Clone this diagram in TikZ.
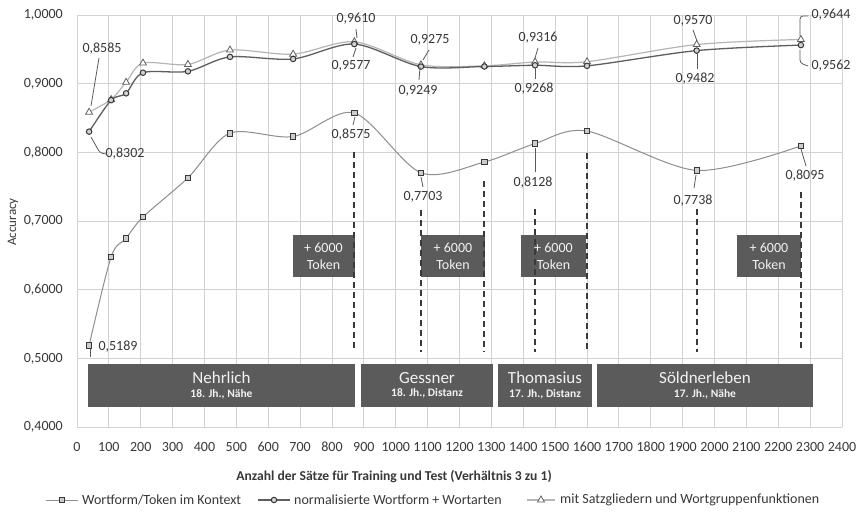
\documentclass[tikz,border=0pt]{standalone}
\usepackage{fontspec}
\setmainfont{Carlito}
\usetikzlibrary{shapes.geometric}

\definecolor{ink}{HTML}{383838}
\definecolor{gridc}{HTML}{D2D2D2}
\definecolor{boxc}{HTML}{5B5B5B}
\definecolor{boxtext}{HTML}{F2F2F2}
\definecolor{serA}{HTML}{8E8E8E}
\definecolor{serB}{HTML}{5E5E5E}
\definecolor{serC}{HTML}{B5B5B5}
\definecolor{leadc}{HTML}{5A5A5A}
\definecolor{cutc}{HTML}{3A3A3A}

\newcommand\fsz[2]{\fontsize{#1bp}{#2bp}\selectfont}

\begin{document}
\begin{tikzpicture}[x=1bp,y=-1bp,
  gridline/.style={draw=gridc, line width=0.9bp},
  ticklab/.style={text=ink, font=\fsz{14}{16}, inner sep=0pt},
  datalab/.style={text=ink, font=\fsz{14}{16}, inner sep=0pt},
  leader/.style={draw=leadc, line width=0.8bp},
  cutline/.style={draw=cutc, line width=2bp, dash pattern=on 6bp off 4bp},
  tokbox/.style={fill=boxc, text=boxtext, font=\fsz{14}{17}, align=center,
    minimum height=42bp, inner sep=0pt},
  authbox/.style={fill=boxc, text=boxtext, align=center,
    minimum height=43bp, inner sep=0pt},
  linA/.style={draw=serA, line width=1bp},
  linB/.style={draw=serB, line width=1.3bp},
  linC/.style={draw=serC, line width=1.2bp},
  mkA/.style={rectangle, draw=ink, fill=gray!40, line width=0.8bp,
    minimum size=5.5bp, inner sep=0pt},
  mkB/.style={circle, draw=ink, fill=gray!35, line width=1bp,
    minimum size=5.5bp, inner sep=0pt},
  mkC/.style={regular polygon, regular polygon sides=3, draw=gray!75!black,
    fill=white, line width=0.8bp, minimum size=8bp, inner sep=0pt},
  legmark/.style={minimum width=32bp, minimum height=1bp, inner sep=0pt},
]
\useasboundingbox (0,0) rectangle (861,514);
\fill[white] (0,0) rectangle (861,514);

% grid of the plot area
\foreach \k in {0,...,24}
  \draw[gridline] ({77+31.875*\k},15) -- ({77+31.875*\k},427.2);
\foreach \k in {0,...,6}
  \draw[gridline] (77,{15+68.7*\k}) -- (842,{15+68.7*\k});

% axis tick labels
\foreach \k in {0,...,24}{
  \pgfmathtruncatemacro\val{100*\k}
  \node[ticklab] (xt\k) at ({77+31.875*\k},447) {\val};
}
\foreach \k in {4,...,9}
  \node[ticklab, anchor=east] (yt\k) at (63,{15+(10-\k)*68.7}) {0,\k000};
\node[ticklab, anchor=east] (yt10) at (63,15) {1,0000};

\node[text=ink, font=\fsz{13}{15}, rotate=90] (ylab) at (13,222) {Accuracy};
\node[text=ink, font=\bfseries\fsz{13.6}{15}] (xlab) at (394,477)
  {Anzahl der Sätze für Training und Test (Verhältnis 3 zu 1)};

% data points (sentences, accuracy) of the three runs
\begin{scope}[shift={(77bp,-702bp)}, x=0.31875bp, y=687bp]
\foreach \i/\v/\pa/\pb/\pc in {
  1/38/0.5189/0.8302/0.8585,
  2/107/0.648/0.876/0.877,
  3/154/0.675/0.886/0.902,
  4/207/0.706/0.916/0.930,
  5/348/0.763/0.918/0.928,
  6/480/0.828/0.939/0.949,
  7/678/0.823/0.936/0.943,
  8/870/0.8575/0.9577/0.9610,
  9/1079/0.7703/0.9249/0.9275,
  10/1278/0.786/0.925/0.926,
  11/1437/0.8128/0.9268/0.9316,
  12/1600/0.831/0.926/0.932,
  13/1944/0.7738/0.9482/0.9570,
  14/2271/0.8095/0.9562/0.9644}{
  \coordinate (a\i) at (\v,\pa);
  \coordinate (b\i) at (\v,\pb);
  \coordinate (c\i) at (\v,\pc);
}
\end{scope}

% corpus blocks
\node[authbox, minimum width=267bp] (nehrlich) at (221.5,385.5)
  {{\fsz{17}{19}Nehrlich}\\[1.5bp]{\bfseries\fsz{11.5}{13}18. Jh., Nähe}};
\node[authbox, minimum width=132bp] (gessner) at (427,385.5)
  {{\fsz{17}{19}Gessner}\\[1.5bp]{\bfseries\fsz{11.5}{13}18. Jh., Distanz}};
\node[authbox, minimum width=94bp] (thomasius) at (545,385.5)
  {{\fsz{17}{19}Thomasius}\\[1.5bp]{\bfseries\fsz{11.5}{13}17. Jh., Distanz}};
\node[authbox, minimum width=216bp] (soeldner) at (705,385.5)
  {{\fsz{17}{19}Söldnerleben}\\[1.5bp]{\bfseries\fsz{11.5}{13}17. Jh., Nähe}};

% token increments
\node[tokbox, minimum width=62bp] (tok1) at (323.5,256) {+ 6000\\Token};
\node[tokbox, minimum width=64bp] (tok2) at (453,256) {+ 6000\\Token};
\node[tokbox, minimum width=65bp] (tok3) at (553.5,256) {+ 6000\\Token};
\node[tokbox, minimum width=64bp] (tok4) at (769,256) {+ 6000\\Token};

% dashed corpus boundaries
\foreach \i/\src/\top in {1/a8/152, 2/a9/210, 3/a10/181, 4/a11/209,
                          5/a12/153, 6/a13/209, 7/a14/192}{
  \coordinate (cut\i-t) at (\src |- 0,\top);
  \coordinate (cut\i-b) at (\src |- 0,352);
  \draw[cutline] (cut\i-t) -- (cut\i-b);
}

% curves
\draw[linC] plot[smooth, tension=0.5] coordinates
  {(c1) (c2) (c3) (c4) (c5) (c6) (c7) (c8) (c9) (c10) (c11) (c12) (c13) (c14)};
\draw[linB] plot[smooth, tension=0.5] coordinates
  {(b1) (b2) (b3) (b4) (b5) (b6) (b7) (b8) (b9) (b10) (b11) (b12) (b13) (b14)};
\draw[linA] plot[smooth, tension=0.5] coordinates
  {(a1) (a2) (a3) (a4) (a5) (a6) (a7) (a8) (a9) (a10) (a11) (a12) (a13) (a14)};

% markers
\foreach \i in {1,...,14}{
  \node[mkC] (mc\i) at (c\i) {};
  \node[mkB] (mb\i) at (b\i) {};
  \node[mkA] (ma\i) at (a\i) {};
}

% value labels
\node[datalab] (v8585) at (102,49) {0,8585};
\node[datalab] (v8302) at (125,154) {0,8302};
\node[datalab] (v9610) at (356,19) {0,9610};
\node[datalab] (v9577) at (351,66) {0,9577};
\node[datalab] (v9275) at (430,40) {0,9275};
\node[datalab] (v9249) at (418,91) {0,9249};
\node[datalab] (v9316) at (538,38) {0,9316};
\node[datalab] (v9268) at (534,89) {0,9268};
\node[datalab] (v8575) at (351,135) {0,8575};
\node[datalab] (v7703) at (423,197) {0,7703};
\node[datalab] (v8128) at (533,183) {0,8128};
\node[datalab] (v8095) at (805,176) {0,8095};
\node[datalab] (v7738) at (693,201) {0,7738};
\node[datalab] (v9570) at (693,21) {0,9570};
\node[datalab] (v9482) at (695,79) {0,9482};
\node[datalab] (v9644) at (831,15) {0,9644};
\node[datalab] (v9562) at (831,66) {0,9562};
\node[datalab] (v5189) at (118,347) {0,5189};

% leader lines
\foreach \n/\xa/\ya/\xb/\yb in {k1/99/58/91/106, k3/356/29/357/38,
    k4/353/57/356/48, k5/429/50/423/60, k6/420/67/419/80, k7/538/48/535/58,
    k8/535/67/535/79, k9/353/125/355/117, k10/421/177/423/187,
    k11/535/148/535/172, k12/801/149/806/166, k13/696/175/694/188,
    k14/693/30/697/41, k15/697/53/697/69, k18/90/349/90/357}{
  \coordinate (\n-s) at (\xa,\ya);
  \coordinate (\n-e) at (\xb,\yb);
  \draw[leader] (\n-s) -- (\n-e);
}
\coordinate (k2-s) at (91,137); \coordinate (k2-m) at (100,153); \coordinate (k2-e) at (106,154);
\draw[leader, rounded corners=3bp] (k2-s) -- (k2-m) -- (k2-e);
\coordinate (k16-s) at (800,36); \coordinate (k16-m) at (800,16); \coordinate (k16-e) at (808,16);
\draw[leader, rounded corners=3bp] (k16-s) -- (k16-m) -- (k16-e);
\coordinate (k17-s) at (800,50); \coordinate (k17-m) at (800,63); \coordinate (k17-e) at (808,66);
\draw[leader, rounded corners=3bp] (k17-s) -- (k17-m) -- (k17-e);

% legend
\node[legmark] (lm1) at (62,500) {};
\draw[linA] (lm1.west) -- (lm1.east);
\node[mkA] (lm1k) at (lm1) {};
\node[ticklab, anchor=west] (lt1) at (82,500) {Wortform/Token im Kontext};
\node[legmark] (lm2) at (274,500) {};
\draw[linB] (lm2.west) -- (lm2.east);
\node[mkB] (lm2k) at (lm2) {};
\node[ticklab, anchor=west] (lt2) at (294,500) {normalisierte Wortform + Wortarten};
\node[legmark, minimum width=28bp] (lm3) at (541,500) {};
\draw[linC] (lm3.west) -- (lm3.east);
\node[mkC] (lm3k) at (lm3) {};
\node[ticklab, anchor=west] (lt3) at (560,500) {mit Satzgliedern und Wortgruppenfunktionen};
\end{tikzpicture}
\end{document}
